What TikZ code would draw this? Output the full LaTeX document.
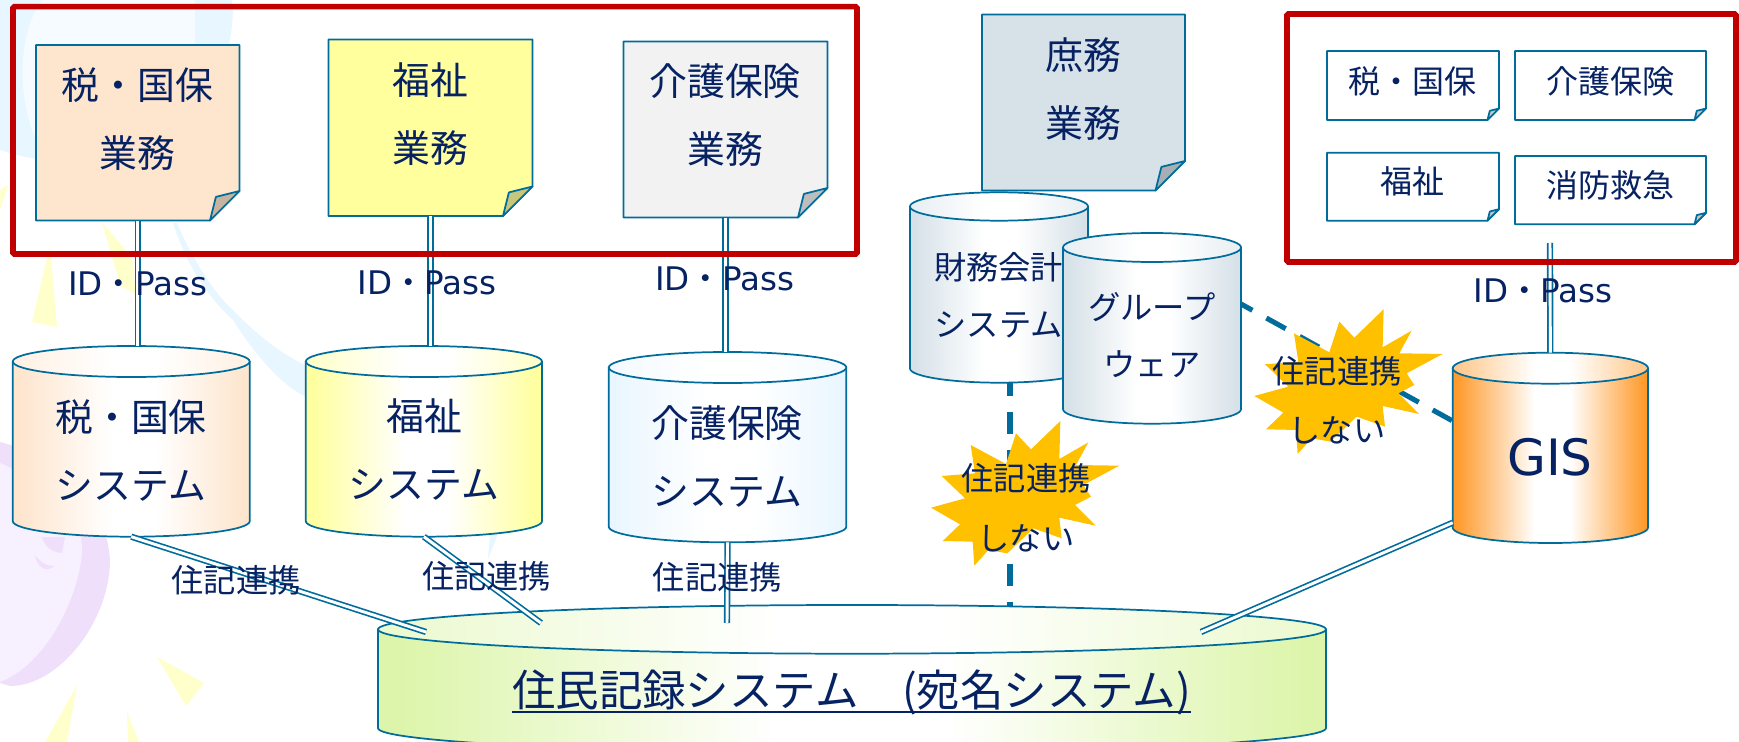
\documentclass[tikz,border=0pt]{standalone}
\usepackage{fontspec}
\setmainfont{Noto Sans CJK JP}
\newfontfamily\latinfont{DejaVu Sans}
\definecolor{lineblue}{RGB}{0,108,156}
\definecolor{redframe}{RGB}{192,0,0}
\definecolor{starfill}{RGB}{255,192,0}
\definecolor{inknavy}{RGB}{6,34,98}
\definecolor{cPeach}{RGB}{254,229,205}
\definecolor{cYellow}{RGB}{255,255,158}
\definecolor{cGrey}{RGB}{242,242,242}
\definecolor{cBlue}{RGB}{234,246,255}
\definecolor{cSlate}{RGB}{214,225,232}
\definecolor{cOrange}{RGB}{255,155,45}
\definecolor{cGreen}{RGB}{220,245,170}
\definecolor{bgBlue}{RGB}{232,246,255}
\definecolor{bgBlueL}{RGB}{246,251,255}
\definecolor{bgYellow}{RGB}{255,255,204}
\definecolor{bgPurple}{RGB}{240,223,251}
\definecolor{bgPurpleL}{RGB}{247,240,254}
\newcommand\mkshade[2]{%
 \pgfdeclarehorizontalshading{#1}{100bp}{color(0bp)=(#2);color(26bp)=(#2);color(46bp)=(white);color(55bp)=(white);color(74bp)=(#2);color(100bp)=(#2)}%
 \pgfdeclarehorizontalshading{#1top}{100bp}{color(0bp)=(#2!55!white);color(26bp)=(#2!55!white);color(46bp)=(white);color(55bp)=(white);color(74bp)=(#2!55!white);color(100bp)=(#2!55!white)}}
\mkshade{sPeach}{cPeach}
\mkshade{sYellow}{cYellow}
\mkshade{sBlue}{cBlue}
\mkshade{sSlate}{cSlate}
\mkshade{sOrange}{cOrange}
\mkshade{sGreen}{cGreen}
\tikzset{
 outline/.style={draw=lineblue,line width=1.3pt,line join=round},
 link/.style={draw=lineblue,line width=1.25pt,double=white,double distance=2.2pt,line cap=butt},
 nolink/.style={draw=lineblue,line width=3.8pt,dash pattern=on 16.5pt off 12pt},
 redbox/.style={draw=redframe,line width=4.2pt,rounded corners=1pt,fill=none},
 lbl/.style={text=inknavy,align=center,inner sep=0pt},
 big/.style={lbl,font=\fontsize{28.4}{51}\selectfont},
 mid/.style={lbl,font=\fontsize{24.2}{43}\selectfont},
 sml/.style={lbl,font=\fontsize{24}{24}\selectfont},
 idp/.style={lbl,font=\fontsize{24.4}{30}\selectfont\latinfont},
}
% name x1 y1 x2 y2 fill fold-size
\newcommand\notebox[7]{%
 \pgfmathsetmacro\nw{(#4-#2)*.75}\pgfmathsetmacro\nh{(#5-#3)*.75}%
 \pgfmathsetmacro\fa{#4-#7}\pgfmathsetmacro\fb{#5-#7}%
 \pgfmathsetmacro\fc{#4-.8*#7}\pgfmathsetmacro\fd{#5-.8*#7}%
 \path[fill=#6,outline] (#2,#3) -- (#4,#3) -- (#4,\fb) -- (\fa,#5) -- (#2,#5) -- cycle;
 \path[fill=#6!78!black,outline] (\fa,#5) -- (\fc,\fd) -- (#4,\fb) -- cycle;
 \node[inner sep=0pt,outer sep=0pt,minimum width=\nw pt,minimum height=\nh pt] (#1) at ({(#2+#4)/2},{(#3+#5)/2}) {};
}
% name x1 x2 ytop ymid ybot shading
\newcommand\cylbox[7]{%
 \pgfmathsetmacro\rx{(#3-#2)/2}\pgfmathsetmacro\ry{(#5-#4)/2}%
 \pgfmathsetmacro\cx{(#2+#3)/2}\pgfmathsetmacro\cy{#4+\ry}\pgfmathsetmacro\by{#6-\ry}%
 \pgfmathsetmacro\kx{.55*\rx}\pgfmathsetmacro\ky{.55*\ry}%
 \pgfmathsetmacro\cw{(#3-#2)*.75}\pgfmathsetmacro\ch{(#6-#4)*.75}%
 \shadedraw[shading=#7,outline] (#2,\cy) -- (#2,\by) .. controls (#2,\by+\ky) and (\cx-\kx,#6) .. (\cx,#6) .. controls (\cx+\kx,#6) and (#3,\by+\ky) .. (#3,\by) -- (#3,\cy) -- cycle;
 \shadedraw[shading=#7top,outline] (\cx,\cy) ellipse [x radius=\rx,y radius=\ry];
 \node[inner sep=0pt,outer sep=0pt,minimum width=\cw pt,minimum height=\ch pt] (#1) at (\cx,{(#4+#6)/2}) {};
}
\newcommand\starshape{(288,70) -- (333,118) -- (421,33) -- (418,147) -- (505,97) -- (468,165) -- (598,167) -- (490,225) -- (513,260) -- (465,285) -- (527,347) -- (418,323) -- (425,385) -- (340,355) -- (262,430) -- (205,420) -- (163,467) -- (158,395) -- (68,393) -- (120,343) -- (33,293) -- (135,265) -- (65,198) -- (165,190) -- (152,105) -- (258,162) -- cycle}
\begin{document}
\begin{tikzpicture}[x=.75pt,y=-.75pt]
\useasboundingbox (0,0) rectangle (1739,742);
\begin{scope}
\clip (0,0) rectangle (1739,742);
% background decoration
\fill[bgBlue] (0,0) -- (232,0) .. controls (234,15) and (232,30) .. (228,50) -- (120,170) .. controls (70,165) and (30,160) .. (0,150) -- cycle;
\fill[bgBlueL] (42,0) .. controls (20,30) and (15,90) .. (36,140) -- (120,140) -- (195,45) -- (195,0) -- cycle;
\fill[bgBlue] (177,223) .. controls (190,255) and (215,295) .. (233,310) .. controls (250,328) and (280,355) .. (310,367) -- (310,398) .. controls (285,390) and (255,355) .. (233,320) .. controls (205,295) and (185,260) .. (173,223) -- cycle;
\fill[bgBlue] (498,534) -- (490,534) -- (488,559) -- cycle;
\fill[bgYellow] (8,185) -- (0,190) -- (0,210) -- cycle;
\fill[bgYellow] (102,222) -- (132,258) -- (136,295) -- (120,285) -- cycle;
\fill[bgYellow] (50,245) -- (57,327) -- (32,322) -- cycle;
\fill[bgYellow] (157,657) -- (204,683) -- (186,706) -- cycle;
\fill[bgYellow] (77,685) -- (45,742) -- (67,742) -- cycle;
\fill[bgYellow] (127,712) -- (128,742) -- (139,742) -- cycle;
\fill[bgPurple] (0,442) .. controls (50,455) and (105,490) .. (110,560) .. controls (110,620) and (60,686) .. (10,686) -- (0,683) -- cycle;
\fill[bgPurpleL] (0,463) .. controls (40,480) and (84,510) .. (82,553) .. controls (78,600) and (45,665) .. (0,682) -- cycle;
\fill[bgPurple] (42,537) -- (65,537) -- (62,553) .. controls (50,552) and (44,545) .. (42,537) -- cycle;
\fill[bgPurple] (35,555) .. controls (40,562) and (46,566) .. (54,566) .. controls (48,572) and (38,570) .. (35,555) -- cycle;
% folded-corner notes
\notebox{noteTax}{36}{45}{239.5}{220.5}{cPeach}{29.5}
\notebox{noteWel}{328.5}{39.5}{532.5}{216}{cYellow}{29.5}
\notebox{noteCare}{623.5}{41.5}{827.5}{217.5}{cGrey}{29.5}
\notebox{noteAdm}{982}{14.5}{1185}{190.5}{cSlate}{29.5}
% named connector ends
\coordinate (mainA) at (426,632);
\coordinate (mainB) at (541,623);
\coordinate (mainC) at (727,623);
\coordinate (mainD) at (1201,632);
\coordinate (gisSide) at (1452.7,522.7);
\coordinate (gisDash) at (1452.7,421);
\coordinate (grpDash) at (1241,304);
\coordinate (finDash) at (1010,383);
\coordinate (mainDash) at (1010,606);
\coordinate (gisUp) at (1550,243);
\coordinate (underY) at (0,712);
% cylinders
\cylbox{cylTax}{12.8}{249.7}{346}{377}{536.7}{sPeach}
\cylbox{cylWel}{305.8}{542}{346}{377}{536.7}{sYellow}
\cylbox{cylCare}{608.8}{846.3}{352}{383}{542.3}{sBlue}
\cylbox{cylGis}{1452.7}{1648}{352.7}{383.7}{543}{sOrange}
\cylbox{cylMain}{378}{1326}{605}{653.7}{752.5}{sGreen}
% connectors
\draw[link] (noteTax.south) -- (noteTax.south |- cylTax.north);
\draw[link] (noteWel.south) -- (noteWel.south |- cylWel.north);
\draw[link] (noteCare.south) -- (noteCare.south |- cylCare.north);
\draw[link] (cylGis.north) -- (gisUp);
\draw[link] (cylTax.south) -- (mainA);
\draw[link] (cylWel.south) -- (mainB);
\draw[link] (cylCare.south) -- (mainC);
\draw[link] (gisSide) -- (mainD);
% red frames
\draw[redbox] (13,6.7) rectangle (857,254);
\draw[redbox] (1287,14) rectangle (1736,262);
% small notes
\notebox{smTax}{1327}{51}{1499}{120}{white}{11.5}
\notebox{smCare}{1515}{51}{1706}{120}{white}{11.5}
\notebox{smWel}{1327}{152.7}{1499}{220.7}{white}{11.5}
\notebox{smFire}{1515}{156}{1706}{224.3}{white}{11.5}
% dashed links
\draw[nolink,dash phase=7pt] (finDash) -- (mainDash);
\draw[nolink,dash phase=6.75pt] (grpDash) -- (gisDash);
% stacked cylinders
\cylbox{cylFin}{910}{1088}{192.3}{220.7}{382.7}{sSlate}
\node[mid] (txtFin) at (998.7,295) {財務会計\\システム};
\cylbox{cylGrp}{1063}{1241}{233}{262}{423.7}{sSlate}
\node[mid] (txtGrp) at (1152,335) {グループ\\ウェア};
% stars
\begin{scope}[shift={(920,410)},x=.25pt,y=-.25pt]
\fill[starfill] \starshape;
\end{scope}
\begin{scope}[shift={(1243.3,298.3)},x=.25pt,y=-.25pt]
\fill[starfill] \starshape;
\end{scope}
\node[lbl,font=\fontsize{24.2}{45}\selectfont] (txtStarA) at (1026,507.5) {住記連携\\しない};
\node[lbl,font=\fontsize{24.2}{44}\selectfont] (txtStarB) at (1337,400.5) {住記連携\\しない};
% labels
\node[big] (txtTax) at (137.6,119) {税・国保\\業務};
\node[big] (txtWel) at (430,114) {福祉\\業務};
\node[big] (txtCare) at (725,115.5) {介護保険\\業務};
\node[big] (txtAdm) at (1083.6,89) {庶務\\業務};
\node[big] (txtCTax) at (131,450) {税・国保\\システム};
\node[big] (txtCWel) at (424,450) {福祉\\システム};
\node[big] (txtCCare) at (727,456) {介護保険\\システム};
\node[sml] (txtSmTax) at (1412.7,81) {税・国保};
\node[sml] (txtSmCare) at (1610,81) {介護保険};
\node[sml] (txtSmWel) at (1412.7,181.7) {福祉};
\node[sml] (txtSmFire) at (1610,185) {消防救急};
\node[idp] (idA) at (137.6,284) {ID{\rmfamily ・}Pass};
\node[idp] (idB) at (427,282.7) {ID{\rmfamily ・}Pass};
\node[idp] (idC) at (724.7,279.3) {ID{\rmfamily ・}Pass};
\node[idp] (idD) at (1543,291) {ID{\rmfamily ・}Pass};
\node[mid] (jkA) at (236,580) {住記連携};
\node[mid] (jkB) at (486.7,576.5) {住記連携};
\node[mid] (jkC) at (717.5,577) {住記連携};
\node[lbl,font=\fontsize{37.6}{40}\selectfont\latinfont] (txtGis) at (1550,457) {GIS};
\node[lbl,font=\fontsize{32.6}{36}\selectfont] (txtMain) at (851.5,692) {住民記録システム　(宛名システム)};
\draw[inknavy,line width=1.5pt] (txtMain.west |- underY) -- (txtMain.east |- underY);
\end{scope}
\end{tikzpicture}
\end{document}
